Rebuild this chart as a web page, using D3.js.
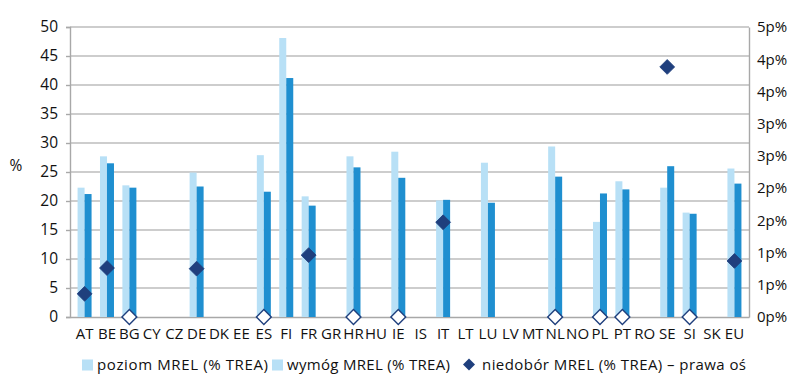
<!DOCTYPE html>
<html>
<head>
<meta charset="utf-8">
<script src="https://cdn.jsdelivr.net/npm/d3@7"></script>
<style>
  html, body { margin: 0; padding: 0; background: #fff; }
  svg { display: block; font-family: "Open Sans", "Noto Sans", sans-serif; }
</style>
</head>
<body>
<svg id="chart" width="790" height="374"></svg>
<script>
const categories = ["AT","BE","BG","CY","CZ","DE","DK","EE","ES","FI","FR","GR","HR","HU","IE","IS","IT","LT","LU","LV","MT","NL","NO","PL","PT","RO","SE","SI","SK","EU"];
const poziom = [22.3, 27.7, 22.7, null, null, 24.9, null, null, 27.9, 48.1, 20.8, null, 27.7, null, 28.5, null, 20.1, null, 26.6, null, null, 29.4, null, 16.4, 23.4, null, 22.3, 18.0, null, 25.6];
const wymog = [21.2, 26.5, 22.3, null, null, 22.5, null, null, 21.6, 41.2, 19.2, null, 25.8, null, 24.0, null, 20.2, null, 19.7, null, null, 24.2, null, 21.3, 22.0, null, 26.0, 17.8, null, 23.0];
const niedobor = [0.36, 0.76, 0, null, null, 0.75, null, null, 0, null, 0.96, null, 0, null, 0, null, 1.47, null, null, null, null, 0, null, 0, 0, null, 3.88, 0, null, 0.87];
const leftTicks = [0, 5, 10, 15, 20, 25, 30, 35, 40, 45, 50];
const rightTicks = [0, 0.5, 1, 1.5, 2, 2.5, 3, 3.5, 4, 4.5];
const legendLabels = ["poziom MREL (% TREA)", "wymóg MREL (% TREA)", "niedobór MREL (% TREA) – prawa oś"];

const colLight = "#b8e0f6", colDark = "#1f8fd0", colDiamond = "#1f3f7d";
const gridCol = "#bdbdbd", axisCol = "#a8a8a8", textCol = "#111";

const L = 70, R = 749, T = 27, B = 317;
const svg = d3.select("#chart");

const x = d3.scaleBand().domain(categories).range([L, R]).paddingInner(0).paddingOuter(0.15);
const y = d3.scaleLinear().domain([0, 50]).range([B, T]);
const y2 = d3.scaleLinear().domain([0, 4.5]).range([B, T]);

// gridlines
svg.append("g").selectAll("line").data(leftTicks.filter(d => d > 0)).join("line")
  .attr("x1", L).attr("x2", R).attr("y1", d => y(d)).attr("y2", d => y(d))
  .attr("stroke", gridCol).attr("stroke-width", 1.4);

// left axis
const gl = svg.append("g").attr("transform", `translate(${L},0)`)
  .call(d3.axisLeft(y).tickValues(leftTicks).tickSize(4).tickPadding(8).tickFormat(d3.format("d")));
gl.select(".domain").attr("stroke", axisCol).attr("stroke-width", 1.4);
gl.selectAll(".tick line").attr("stroke", axisCol).attr("stroke-width", 1.4);
gl.selectAll(".tick text").attr("fill", textCol).style("font-size", "15.5px").style("font-family", "Open Sans");

// right axis
const gr = svg.append("g").attr("transform", `translate(${R},0)`)
  .call(d3.axisRight(y2).tickValues(rightTicks).tickSize(0).tickPadding(8).tickFormat(d => Math.round(d) + "p%"));
gr.select(".domain").attr("stroke", axisCol).attr("stroke-width", 1.4);
gr.selectAll(".tick text").attr("fill", textCol).style("font-size", "15px").style("font-family", "Open Sans");

// bottom axis
const gb = svg.append("g").attr("transform", `translate(0,${B})`)
  .call(d3.axisBottom(x).tickSize(0).tickPadding(11));
gb.select(".domain").attr("stroke", axisCol).attr("stroke-width", 1.4);
gb.selectAll(".tick text").attr("fill", textCol).style("font-size", "15px").style("font-family", "Open Sans");

// % label
svg.append("text").attr("x", 16).attr("y", 171).attr("text-anchor", "middle")
  .attr("fill", textCol).style("font-size", "15.5px").text("%");

const bw = 7;
const idx = categories.map((c, i) => i);
svg.append("g").selectAll("rect").data(idx.filter(i => poziom[i] != null)).join("rect")
  .attr("x", i => x(categories[i]) + x.bandwidth() / 2 - bw)
  .attr("width", bw)
  .attr("y", i => y(poziom[i])).attr("height", i => y(0) - y(poziom[i]))
  .attr("fill", colLight);
svg.append("g").selectAll("rect").data(idx.filter(i => wymog[i] != null)).join("rect")
  .attr("x", i => x(categories[i]) + x.bandwidth() / 2)
  .attr("width", bw)
  .attr("y", i => y(wymog[i])).attr("height", i => y(0) - y(wymog[i]))
  .attr("fill", colDark);

// diamonds
const dsym = d3.symbol().type(d3.symbolSquare).size(110);
svg.append("g").selectAll("path").data(idx.filter(i => niedobor[i] != null)).join("path")
  .attr("d", dsym)
  .attr("transform", i => `translate(${x(categories[i]) + x.bandwidth() / 2},${y2(niedobor[i])}) rotate(45)`)
  .attr("fill", i => niedobor[i] === 0 ? "#fff" : colDiamond)
  .attr("stroke", colDiamond)
  .attr("stroke-width", i => niedobor[i] === 0 ? 1.4 : 0.8);

// legend
const lg = svg.append("g");
const lx = [82, 272, 463];
const textX = [97, 287, 482];
const textW = [171, 163, 264];
lg.append("rect").attr("x", lx[0]).attr("y", 359.5).attr("width", 11).attr("height", 11).attr("fill", colLight);
lg.append("rect").attr("x", lx[1]).attr("y", 359.5).attr("width", 11).attr("height", 11).attr("fill", colLight);
lg.append("path").attr("d", d3.symbol().type(d3.symbolSquare).size(72))
  .attr("transform", `translate(${lx[2] + 6},364.5) rotate(45)`).attr("fill", colDiamond);
legendLabels.forEach((t, i) => {
  lg.append("text").attr("x", textX[i]).attr("y", 369.5)
    .attr("fill", textCol).style("font-size", "15px")
    .attr("textLength", textW[i]).attr("lengthAdjust", "spacing")
    .text(t);
});
</script>
</body>
</html>
